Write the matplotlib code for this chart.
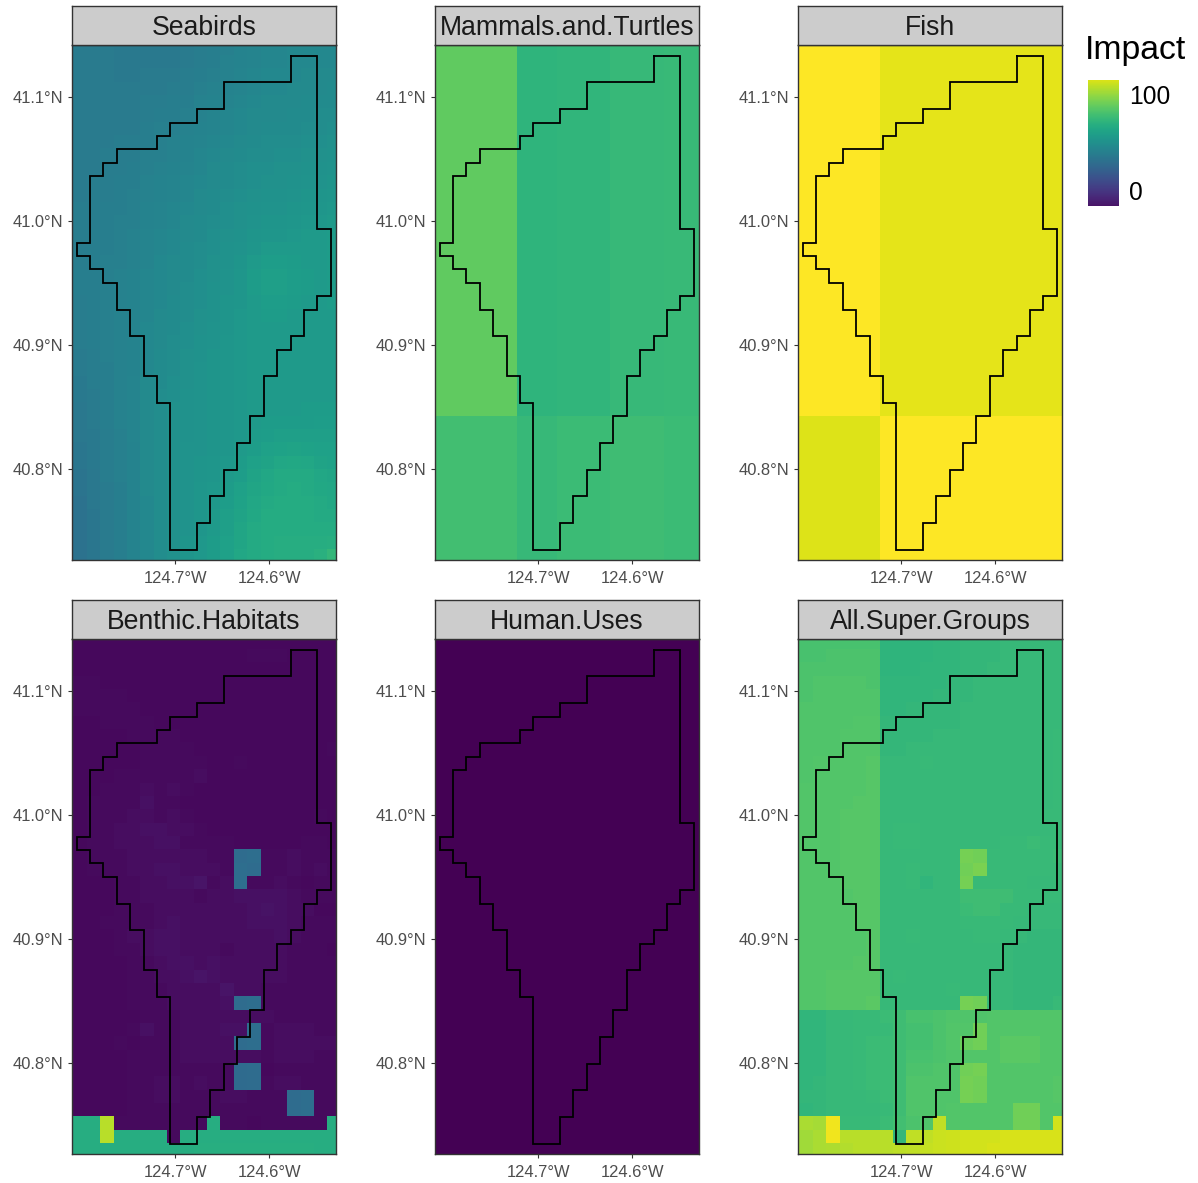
import numpy as np
import matplotlib
matplotlib.use("Agg")
import matplotlib.pyplot as plt
from matplotlib.cm import ScalarMappable
from matplotlib.colors import Normalize

plt.rcParams['font.family'] = ['Liberation Sans', 'DejaVu Sans']

# Impact values per raster cell (39 rows, 20 columns)
seabirds = [
    [37,37,37,36,36,36,36,36,37,38,39,40,42,43,44,44,45,45,45,45],
    [37,37,37,36,36,36,36,36,37,38,39,41,42,43,44,44,45,45,45,45],
    [37,37,37,36,36,37,37,37,38,39,40,41,43,44,45,45,45,46,46,46],
    [37,37,37,37,37,37,37,38,38,40,41,42,43,44,45,45,46,46,46,47],
    [37,37,37,37,37,38,38,39,39,41,42,43,44,45,46,46,46,47,47,47],
    [37,37,37,37,37,38,39,39,40,41,43,44,45,46,46,46,47,47,48,48],
    [37,37,37,37,37,39,40,40,41,42,43,44,45,46,47,47,47,48,48,49],
    [37,37,37,38,38,39,40,41,42,43,44,45,46,47,48,48,48,49,49,50],
    [37,37,38,38,38,40,40,41,42,44,45,46,47,48,48,49,49,50,50,51],
    [37,37,38,38,39,40,41,42,43,44,46,47,48,49,49,50,50,51,51,52],
    [37,38,38,39,39,41,42,43,44,45,46,47,48,49,50,50,51,52,52,53],
    [37,38,38,39,40,41,42,43,44,46,47,48,49,50,51,51,52,53,53,54],
    [38,38,39,39,40,42,43,44,45,46,47,49,50,51,52,52,53,54,54,55],
    [38,38,39,40,40,42,43,44,46,47,48,49,50,52,53,53,54,55,55,56],
    [38,39,39,40,41,43,44,45,46,47,49,50,51,53,54,54,55,56,56,57],
    [38,39,39,40,41,43,44,45,47,48,49,51,52,54,56,56,56,56,56,57],
    [38,39,40,40,41,43,45,46,47,48,50,51,53,56,58,58,57,56,56,57],
    [39,39,40,41,42,44,45,46,47,49,50,52,54,57,59,59,58,57,56,57],
    [39,39,40,41,42,44,45,46,48,49,51,52,54,57,59,59,58,57,56,57],
    [38,39,40,41,42,44,45,47,48,49,51,53,54,56,58,58,57,56,56,57],
    [38,39,40,41,42,44,46,47,48,50,51,53,55,56,57,57,56,56,56,56],
    [38,39,40,41,42,45,46,47,49,50,52,53,55,56,56,56,56,56,56,56],
    [38,39,40,41,42,45,46,48,49,51,52,54,55,56,56,56,56,56,56,56],
    [37,38,40,41,42,45,47,48,50,51,53,54,55,56,56,56,56,56,56,56],
    [37,38,39,41,42,45,47,48,50,52,53,54,55,56,56,56,56,56,56,56],
    [36,38,39,41,43,46,47,49,50,52,53,54,55,56,56,56,56,56,56,56],
    [36,37,39,41,43,46,48,49,51,52,53,54,55,56,56,56,56,56,56,56],
    [35,37,39,41,43,46,48,50,51,52,53,54,55,56,56,56,56,57,57,57],
    [35,37,39,41,43,46,48,50,51,52,53,54,55,56,57,57,57,57,58,58],
    [35,36,38,40,43,46,48,50,51,52,53,54,55,57,58,59,59,59,59,59],
    [34,36,38,40,42,46,48,50,52,52,53,54,56,58,60,61,62,61,60,60],
    [34,36,38,40,42,46,48,50,52,53,54,55,57,60,62,64,65,64,62,61],
    [33,35,38,40,42,46,48,50,52,53,54,56,58,62,64,66,66,66,64,63],
    [33,35,37,39,42,46,48,50,52,54,55,57,60,63,65,66,67,66,65,64],
    [32,35,37,39,42,45,48,50,52,54,55,58,61,64,66,67,67,67,66,65],
    [32,34,37,39,42,45,48,50,52,54,56,59,62,65,67,67,67,67,66,66],
    [32,34,37,39,42,45,48,50,52,54,56,59,63,66,67,67,67,67,67,67],
    [32,34,37,39,42,45,48,50,53,55,57,60,63,66,67,68,68,68,68,69],
    [32,34,37,39,42,45,48,50,53,55,57,60,64,66,67,68,68,68,70,74],
]

benthic = [
    [-21,-21,-21,-21,-21,-21,-21,-21,-21,-21,-21,-21,-21,-21,-21,-21,-21,-21,-21,-21],
    [-21,-21,-21,-21,-21,-21,-21,-21,-21,-21,-21,-21,-21,-20,-20,-20,-21,-21,-21,-21],
    [-21,-21,-21,-21,-21,-21,-21,-21,-21,-21,-21,-21,-21,-21,-21,-21,-21,-21,-21,-21],
    [-20,-20,-21,-21,-21,-21,-21,-21,-21,-21,-21,-21,-21,-21,-21,-21,-21,-21,-21,-21],
    [-20,-20,-20,-20,-21,-21,-21,-21,-21,-21,-21,-21,-21,-21,-21,-21,-21,-21,-21,-21],
    [-20,-20,-20,-20,-20,-21,-21,-21,-21,-21,-21,-21,-21,-21,-21,-21,-21,-21,-21,-21],
    [-21,-21,-20,-20,-20,-20,-21,-21,-21,-21,-21,-21,-21,-21,-21,-21,-21,-21,-21,-21],
    [-21,-21,-21,-21,-20,-20,-20,-20,-21,-21,-21,-21,-21,-21,-21,-21,-21,-21,-21,-21],
    [-21,-21,-21,-21,-21,-20,-20,-20,-20,-21,-21,-21,-21,-21,-21,-21,-21,-21,-21,-20],
    [-21,-21,-21,-21,-21,-20,-20,-20,-20,-20,-21,-21,-20,-21,-21,-21,-21,-21,-21,-21],
    [-21,-21,-21,-20,-20,-20,-20,-20,-20,-19,-21,-21,-21,-21,-21,-21,-21,-21,-21,-21],
    [-21,-21,-20,-20,-20,-19,-20,-19,-20,-21,-21,-21,-21,-21,-21,-21,-21,-21,-21,-21],
    [-21,-20,-20,-20,-20,-18,-20,-20,-21,-21,-21,-21,-21,-21,-21,-21,-21,-21,-21,-21],
    [-21,-20,-20,-20,-19,-19,-20,-19,-20,-21,-21,-21,-21,-21,-21,-21,-21,-21,-20,-21],
    [-21,-20,-20,-19,-19,-18,-18,-19,-19,-20,-21,-21,-21,-21,-21,-21,-21,-21,-21,-21],
    [-21,-20,-20,-19,-19,-19,-18,-18,-20,-20,-20,-20,-21,-21,-21,-21,-21,-20,-20,-21],
    [-21,-20,-20,-20,-19,-19,-19,-19,-19,-19,-20,-20,28,29,-20,-20,-19,-20,-20,-20],
    [-21,-20,-20,-20,-19,-19,-18,-18,-19,-19,-19,-20,29,28,-20,-20,-19,-20,-19,-20],
    [-21,-21,-21,-20,-20,-19,-19,-18,-18,-16,-20,-19,29,-20,-20,-19,-20,-21,-20,-20],
    [-21,-21,-21,-20,-20,-19,-19,-19,-19,-20,-19,-19,-18,-18,-18,-18,-19,-20,-20,-20],
    [-21,-21,-21,-20,-20,-20,-19,-19,-19,-19,-19,-19,-19,-18,-17,-18,-19,-19,-21,-21],
    [-21,-21,-20,-20,-20,-20,-19,-18,-19,-19,-19,-19,-19,-18,-18,-18,-19,-20,-20,-20],
    [-21,-21,-21,-20,-19,-19,-18,-18,-19,-19,-19,-19,-19,-19,-19,-18,-19,-20,-20,-20],
    [-21,-21,-21,-20,-20,-19,-18,-18,-19,-19,-19,-20,-19,-19,-19,-19,-20,-20,-20,-21],
    [-21,-21,-21,-21,-20,-20,-19,-18,-18,-19,-18,-19,-19,-19,-19,-19,-20,-20,-20,-20],
    [-21,-21,-21,-21,-20,-20,-19,-19,-18,-16,-18,-19,-19,-19,-19,-19,-20,-20,-20,-20],
    [-21,-21,-21,-21,-20,-20,-20,-19,-19,-19,-19,-16,-19,-19,-20,-20,-20,-20,-20,-20],
    [-21,-21,-21,-21,-20,-20,-20,-19,-19,-19,-19,-18,28,29,-20,-20,-20,-20,-20,-20],
    [-21,-21,-21,-21,-21,-20,-20,-20,-19,-19,-19,-19,-19,-19,-19,-20,-20,-20,-20,-20],
    [-21,-21,-21,-21,-20,-18,-20,-20,-19,-19,-19,-18,-18,29,-20,-19,-19,-19,-20,-20],
    [-21,-21,-21,-20,-21,-20,-20,-20,-19,-19,-19,-19,28,29,-20,-19,-19,-19,-19,-19],
    [-21,-21,-21,-21,-20,-20,-20,-20,-19,-19,-19,-19,-19,-19,-20,-19,-19,-19,-20,-20],
    [-21,-21,-21,-21,-20,-20,-20,-20,-20,-20,-20,-20,27,28,-21,-20,-20,-20,-20,-20],
    [-21,-21,-21,-21,-20,-20,-19,-19,-20,-19,-20,-20,27,28,-20,-19,-19,-20,-20,-20],
    [-21,-21,-21,-21,-20,-20,-19,-19,-20,-20,-20,-19,-19,-20,-20,-20,28,29,-20,-20],
    [-21,-21,-21,-21,-20,-20,-20,-20,-20,-20,-20,-20,-20,-20,-20,-20,28,29,-20,-20],
    [68,68,108,-20,-20,-20,-20,-20,-20,-20,68,-20,-20,-21,-20,-20,-20,-20,-20,68],
    [68,68,108,68,68,68,68,-20,68,68,68,68,68,68,68,68,68,68,68,68],
    [68,68,68,68,68,68,68,68,68,69,69,69,69,69,69,69,69,69,68,68],
]

all_groups = [
    [81,81,81,81,81,81,72,72,72,72,73,73,74,74,74,75,75,75,75,75],
    [81,81,82,82,82,82,72,72,72,72,73,73,74,74,74,75,75,75,75,75],
    [82,82,82,82,82,82,72,72,72,73,73,73,74,74,75,75,75,75,75,75],
    [82,83,83,83,83,82,73,73,73,73,73,74,74,75,75,75,75,75,75,75],
    [82,83,83,83,83,83,73,73,73,73,74,74,74,75,75,75,75,75,75,75],
    [83,83,83,83,83,83,73,73,74,74,74,74,75,75,75,75,75,75,75,75],
    [83,83,83,83,84,84,74,74,74,74,74,74,75,75,75,75,75,75,75,75],
    [83,83,83,84,84,84,74,74,74,74,75,75,75,75,75,75,75,75,75,76],
    [83,83,83,84,84,84,74,74,75,75,75,75,75,75,75,75,75,75,75,76],
    [83,84,84,84,84,85,75,75,75,76,75,75,75,75,75,75,75,75,75,76],
    [83,84,84,84,84,85,75,75,75,75,75,75,75,75,75,75,75,75,75,76],
    [84,84,84,84,84,85,75,75,75,75,75,75,75,75,75,75,75,75,75,76],
    [84,84,84,84,85,85,75,75,75,75,75,75,75,75,75,75,75,75,75,76],
    [84,84,84,85,85,85,75,75,75,75,75,75,75,75,75,75,75,75,76,76],
    [84,84,84,85,85,85,75,76,76,75,75,75,75,75,75,75,75,75,75,76],
    [84,84,84,85,85,85,75,76,76,75,75,75,75,75,75,76,76,77,76,76],
    [84,84,84,85,85,85,75,75,75,75,75,75,93,92,76,76,76,76,76,77],
    [84,84,84,85,85,85,75,75,76,75,75,75,92,94,76,76,76,76,76,76],
    [84,84,84,85,85,85,75,75,76,73,75,75,93,76,76,76,76,75,75,76],
    [84,84,84,84,85,85,75,75,75,75,75,75,78,78,78,78,76,76,76,76],
    [84,84,84,84,85,85,75,75,75,75,75,75,77,78,78,76,76,75,75,75],
    [84,84,84,84,85,85,75,75,75,75,75,75,76,76,76,76,75,75,75,75],
    [84,84,84,84,84,85,75,75,76,75,75,75,75,76,76,75,75,74,74,74],
    [84,84,84,84,84,85,75,75,75,75,75,75,75,75,75,75,74,74,74,74],
    [84,84,84,84,85,85,75,75,75,75,75,75,75,75,75,75,74,74,74,74],
    [84,84,85,85,85,85,75,76,75,75,75,75,75,75,75,75,74,74,74,74],
    [84,84,85,85,85,85,75,75,75,75,75,76,75,75,75,75,74,74,74,74],
    [84,84,85,85,85,86,75,75,75,75,75,75,93,92,75,75,74,74,74,76],
    [73,73,75,75,76,76,77,78,81,81,82,83,83,83,84,84,84,84,84,84],
    [73,73,75,75,76,76,76,78,80,80,82,84,84,92,84,84,84,84,84,84],
    [73,73,75,75,76,77,77,78,80,80,82,84,90,92,84,86,86,86,84,84],
    [73,73,75,75,76,77,77,78,81,81,82,83,84,84,84,86,86,86,84,84],
    [73,73,75,75,76,77,77,78,82,82,83,83,92,93,84,84,84,84,84,84],
    [73,74,75,75,76,77,77,78,83,83,83,83,93,92,84,84,84,84,84,85],
    [74,74,75,75,75,76,77,78,83,83,83,83,93,92,84,84,84,84,84,85],
    [73,74,75,75,75,75,76,78,83,83,83,84,84,84,84,84,92,92,84,84],
    [105,104,121,76,76,76,77,79,82,83,110,84,84,84,84,84,92,92,84,114],
    [103,105,121,108,108,108,108,74,110,110,112,113,114,114,114,115,115,115,115,115],
    [103,105,106,107,108,108,108,109,110,111,112,113,114,114,115,115,115,115,115,115],
]

# these two panels are flat blocks, values given per block
mammals_blocks = [[88, 72, 73, 75, 76], [79, 75, 77, 78, 77]]
fish_blocks = [[124, 118, 118, 118, 118], [116, 124, 124, 124, 124]]
block_col_counts = [6, 3, 4, 4, 3]
block_row_counts = [28, 11]
human_level = -24

panel_names = ['Seabirds', 'Mammals.and.Turtles', 'Fish',
               'Benthic.Habitats', 'Human.Uses', 'All.Super.Groups']

lon_ticks = [-124.7, -124.6]
lon_labels = ['124.7°W', '124.6°W']
lat_ticks = [40.8, 40.9, 41.0, 41.1]
lat_labels = ['40.8°N', '40.9°N', '41.0°N', '41.1°N']
legend_ticks = [0, 100]

# study area outline, as cell steps around the stair-stepped boundary
poly_col = [16,18,18,19,19,18,18,17,17,16,16,15,15,14,14,13,13,12,12,11,11,10,10,9,9,
            7,7,6,6,5,5,4,4,3,3,2,2,1,1,0,0,1,1,2,2,3,3,6,6,7,7,9,9,11,11,16,16]
poly_row = [0,0,13,13,18,18,19,19,21,21,22,22,24,24,27,27,29,29,31,31,33,33,35,35,37,
            37,26,26,24,24,21,21,19,19,17,17,16,16,15,15,14,14,9,9,8,8,7,7,6,6,5,5,4,4,2,2,0]
poly_lon0, poly_lat0 = -124.8049, 41.1333
cell_lon, cell_lat = 0.01422, 0.01078
raster_lon0, raster_lat0 = -124.8084, 41.1447
xlim = (-124.8099, -124.5290)
ylim = (40.7263, 41.14197)

W, H = 1198, 1183
norm = Normalize(vmin=-24, vmax=124)
cmap = 'viridis'


def box(l, t, r, b):
    return [l / W, 1 - b / H, (r - l) / W, (b - t) / H]


mammals = np.repeat(np.repeat(np.array(mammals_blocks), block_col_counts, axis=1), block_row_counts, axis=0)
fish = np.repeat(np.repeat(np.array(fish_blocks), block_col_counts, axis=1), block_row_counts, axis=0)
human = np.full((39, 20), human_level)
grids = [seabirds, mammals, fish, benthic, human, all_groups]

lon_edges = raster_lon0 + cell_lon * np.arange(21)
lon_edges[0] = xlim[0]
lat_edges = raster_lat0 - cell_lat * np.arange(40)
poly_lon = poly_lon0 + cell_lon * np.array(poly_col)
poly_lat = poly_lat0 - cell_lat * np.array(poly_row)

fig = plt.figure(figsize=(W / 100, H / 100), dpi=100, facecolor='white')

lefts = [72, 435, 798]
tops = [6, 600]
for i, name in enumerate(panel_names):
    left = lefts[i % 3]
    top = tops[i // 3]

    ax = fig.add_axes(box(left, top + 39, left + 264, top + 554))
    ax.pcolormesh(lon_edges, lat_edges, np.array(grids[i]), cmap=cmap, norm=norm, linewidth=0)
    ax.plot(poly_lon, poly_lat, color='black', lw=1.3, solid_joinstyle='miter')
    ax.set_xlim(xlim)
    ax.set_ylim(ylim)
    ax.set_xticks(lon_ticks)
    ax.set_xticklabels(lon_labels)
    ax.set_yticks(lat_ticks)
    ax.set_yticklabels(lat_labels)
    ax.tick_params(length=3, width=0.8, color='#333333', labelcolor='#4D4D4D', labelsize=11.9)
    ax.tick_params(axis='x', pad=5)
    ax.tick_params(axis='y', pad=3.5)
    for s in ax.spines.values():
        s.set_color('#333333')
        s.set_linewidth(1.0)

    # facet strip
    strip = fig.add_axes(box(left, top, left + 264, top + 39))
    strip.set_facecolor('#CCCCCC')
    strip.set_xticks([])
    strip.set_yticks([])
    for s in strip.spines.values():
        s.set_color('#333333')
        s.set_linewidth(1.0)
    strip.text(0.5, 0.44, name, ha='center', va='center', fontsize=19.2,
               color='#1A1A1A', transform=strip.transAxes)

# legend
cax = fig.add_axes(box(1088, 79.5, 1119, 206))
cbar = fig.colorbar(ScalarMappable(norm=norm, cmap=cmap), cax=cax)
cax.set_ylim(-16.8, 116.3)
cbar.set_ticks(legend_ticks)
cbar.ax.tick_params(length=0, labelsize=17.7, pad=7, labelcolor='black')
cbar.outline.set_visible(False)
fig.text(1085 / W, 1 - 51 / H, 'Impact', fontsize=24.3, ha='left', va='center', color='black')

fig.savefig('out.png', dpi=100)
